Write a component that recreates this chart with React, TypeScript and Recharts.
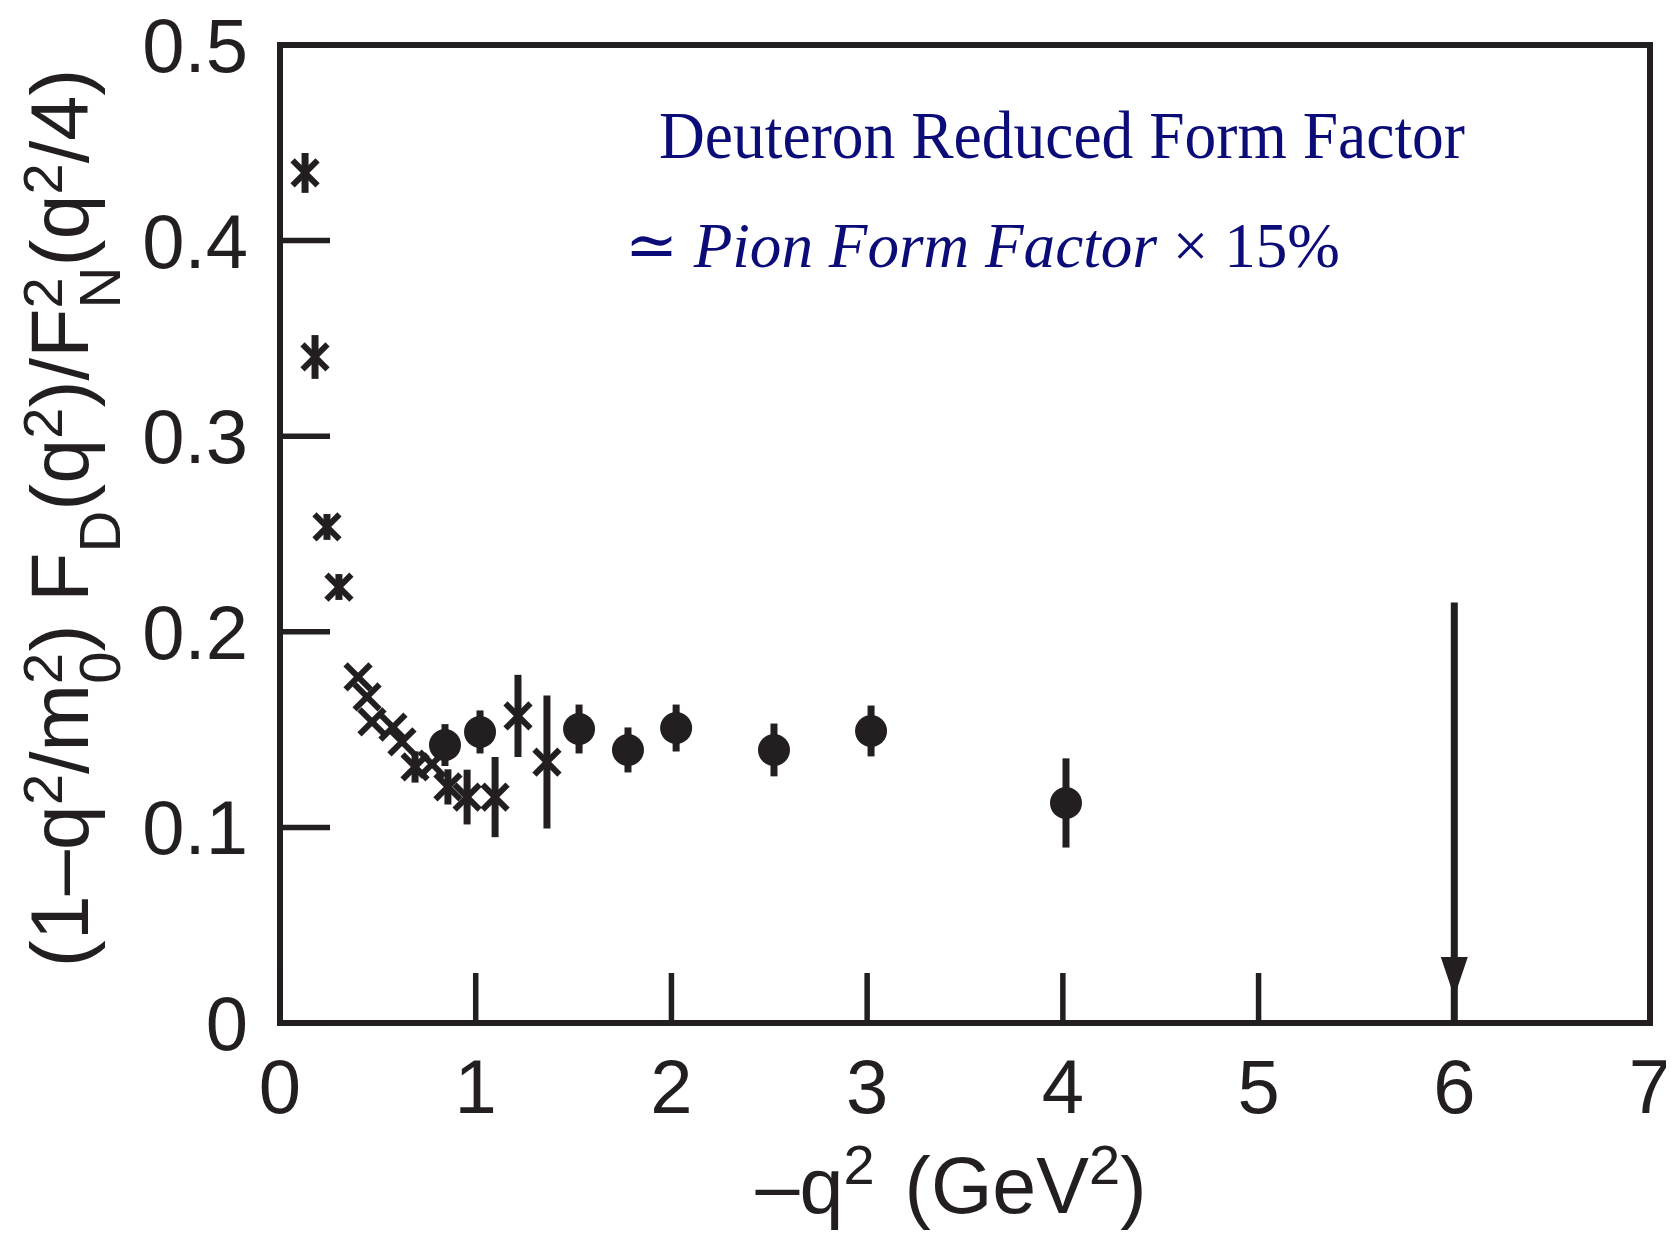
import React from "react";
import {
  ScatterChart,
  Scatter,
  XAxis,
  YAxis,
  ErrorBar,
  ReferenceArea,
  ReferenceLine,
} from "recharts";

// ---- data ----
// cross markers (-q^2, reduced form factor, error)
const crossQ2 = [0.128, 0.179, 0.24, 0.301, 0.399, 0.445, 0.47, 0.577, 0.623, 0.69, 0.777, 0.858, 0.956, 1.099, 1.216, 1.364];
const crossVal = [0.4346, 0.3405, 0.2536, 0.2229, 0.1769, 0.1667, 0.1539, 0.1513, 0.1437, 0.1309, 0.1324, 0.1207, 0.1155, 0.1155, 0.157, 0.1334];
const crossErr = [0.0102, 0.0112, 0.0066, 0.0066, 0, 0, 0, 0, 0, 0.008, 0, 0.009, 0.014, 0.0205, 0.021, 0.034];

// filled circle markers
const dotQ2 = [0.843, 1.022, 1.528, 1.778, 2.024, 2.524, 3.02, 4.016];
const dotVal = [0.1421, 0.1488, 0.1503, 0.1396, 0.1508, 0.1396, 0.1493, 0.1125];
const dotErr = [0.0107, 0.011, 0.0125, 0.0115, 0.012, 0.0135, 0.013, 0.0228];

// arrow at -q^2 = 6
const arrowQ2 = [6];
const arrowTop = [0.215];
const arrowTip = [0.0133];

const xTicks = [0, 1, 2, 3, 4, 5, 6, 7];
const yTicks = [0, 0.1, 0.2, 0.3, 0.4, 0.5];
const yTickLabels = ["0", "0.1", "0.2", "0.3", "0.4", "0.5"];

const titleLine1 = "Deuteron Reduced Form Factor";

// ---- styling ----
const INK = "#231f20";
const NAVY = "#0c0c78";
const SANS = "'Liberation Sans', Arial, Helvetica, sans-serif";
const SERIF = "'Liberation Serif', 'Times New Roman', 'DejaVu Serif', serif";

const crossData = crossQ2.map((q, i) => ({ q, v: crossVal[i], e: crossErr[i] }));
const dotData = dotQ2.map((q, i) => ({ q, v: dotVal[i], e: dotErr[i] }));
const arrowHeadData = arrowQ2.map((q, i) => ({ q, v: arrowTip[i] }));

const W = 1674;
const H = 1238;
const TICK = 50;

const CrossShape = (p: any) => {
  const { cx, cy } = p;
  const s = 12.5;
  return (
    <g stroke={INK} strokeWidth={6}>
      <line x1={cx - s} y1={cy - s} x2={cx + s} y2={cy + s} />
      <line x1={cx - s} y1={cy + s} x2={cx + s} y2={cy - s} />
    </g>
  );
};

const DotShape = (p: any) => <circle cx={p.cx} cy={p.cy} r={16} fill={INK} />;

const ArrowHead = (p: any) => {
  const { cx, cy } = p;
  return (
    <polygon
      points={`${cx},${cy} ${cx - 13.5},${cy - 40} ${cx + 13.5},${cy - 40}`}
      fill={INK}
    />
  );
};

const XTick = (p: any) => {
  const { x, y, payload } = p;
  return (
    <text x={x} y={y + TICK + 90} textAnchor="middle" fontFamily={SANS} fontSize={76} fill={INK}>
      {String(payload.value)}
    </text>
  );
};

const YTick = (p: any) => {
  const { x, y, payload } = p;
  const idx = yTicks.indexOf(payload.value);
  return (
    <text x={x - TICK - 32} y={y} dy={27} textAnchor="end" fontFamily={SANS} fontSize={76} fill={INK}>
      {idx >= 0 ? yTickLabels[idx] : String(payload.value)}
    </text>
  );
};

const SUP = 56;
const SUB = 58;

const YLabel = () => (
  <text
    transform="translate(88, 518) rotate(-90)"
    textAnchor="middle"
    fontFamily={SANS}
    fontSize={81}
    fill={INK}
  >
    <tspan>(1–q</tspan>
    <tspan fontSize={SUP} dy={-26}>2</tspan>
    <tspan dy={26}>/m</tspan>
    <tspan fontSize={SUP} dy={-26}>2</tspan>
    <tspan fontSize={SUB} dx={-31} dy={58}>0</tspan>
    <tspan dy={-32}>) F</tspan>
    <tspan fontSize={SUB} dy={32}>D</tspan>
    <tspan dy={-32}>(q</tspan>
    <tspan fontSize={SUP} dy={-26}>2</tspan>
    <tspan dy={26}>)/F</tspan>
    <tspan fontSize={SUP} dy={-26}>2</tspan>
    <tspan fontSize={SUB} dx={-31} dy={58}>N</tspan>
    <tspan dy={-32}>(q</tspan>
    <tspan fontSize={SUP} dy={-26}>2</tspan>
    <tspan dy={26}>/4)</tspan>
  </text>
);

const XLabel = () => (
  <text x={951} y={1213} textAnchor="middle" fontFamily={SANS} fontSize={79} fill={INK}>
    <tspan>–q</tspan>
    <tspan fontSize={56} dy={-29}>2</tspan>
    <tspan dy={29} dx={30}>(GeV</tspan>
    <tspan fontSize={56} dy={-29}>2</tspan>
    <tspan dy={29}>)</tspan>
  </text>
);

const Titles = () => (
  <g>
    <text
      x={659}
      y={158}
      fontFamily={SERIF}
      fontSize={68}
      fill={NAVY}
      textLength={806}
      lengthAdjust="spacingAndGlyphs"
    >
      {titleLine1}
    </text>
    <text
      x={625}
      y={267}
      fontFamily={SERIF}
      fontSize={64}
      fill={NAVY}
      textLength={715}
      lengthAdjust="spacingAndGlyphs"
    >
      <tspan>≃ </tspan>
      <tspan fontStyle="italic">Pion Form Factor</tspan>
      <tspan> × 15%</tspan>
    </text>
  </g>
);

export default function App() {
  return (
    <div style={{ margin: -8, width: W, height: H }}>
      <ScatterChart
        width={W}
        height={H}
        margin={{ top: 35, right: 14, bottom: 115, left: 180 }}
      >
        <XAxis
          xAxisId="b"
          dataKey="q"
          type="number"
          domain={[0, 7]}
          ticks={xTicks}
          orientation="bottom"
          height={100}
          axisLine={false}
          tickSize={-TICK}
          tickMargin={0}
          tickLine={{ stroke: INK, strokeWidth: 5.5 }}
          tick={<XTick />}
          allowDataOverflow
        />
        <XAxis
          xAxisId="t"
          dataKey="q"
          type="number"
          domain={[0, 7]}
          ticks={xTicks}
          orientation="top"
          height={10}
          axisLine={false}
          tickSize={-TICK}
          tickLine={{ stroke: INK, strokeWidth: 5.5 }}
          tick={false}
          allowDataOverflow
        />
        <YAxis
          yAxisId="l"
          dataKey="v"
          type="number"
          domain={[0, 0.5]}
          ticks={yTicks}
          orientation="left"
          width={100}
          axisLine={false}
          tickSize={-TICK}
          tickMargin={0}
          tickLine={{ stroke: INK, strokeWidth: 5.5 }}
          tick={<YTick />}
          allowDataOverflow
        />
        <YAxis
          yAxisId="r"
          dataKey="v"
          type="number"
          domain={[0, 0.5]}
          ticks={yTicks}
          orientation="right"
          width={10}
          axisLine={false}
          tickSize={-TICK}
          tickLine={{ stroke: INK, strokeWidth: 5.5 }}
          tick={false}
          allowDataOverflow
        />
        <ReferenceArea
          xAxisId="b"
          yAxisId="l"
          x1={0}
          x2={7}
          y1={0}
          y2={0.5}
          fill="none"
          fillOpacity={0}
          stroke={INK}
          strokeWidth={6}
          ifOverflow="visible"
        />
        <ReferenceLine
          xAxisId="b"
          yAxisId="l"
          segment={[
            { x: arrowQ2[0], y: arrowTop[0] },
            { x: arrowQ2[0], y: 0 },
          ]}
          stroke={INK}
          strokeWidth={7}
          ifOverflow="visible"
        />
        <Scatter
          xAxisId="b"
          yAxisId="l"
          data={arrowHeadData}
          shape={<ArrowHead />}
          isAnimationActive={false}
        />
        <Scatter
          xAxisId="b"
          yAxisId="l"
          data={dotData}
          shape={<DotShape />}
          isAnimationActive={false}
        >
          <ErrorBar dataKey="e" direction="y" width={0} stroke={INK} strokeWidth={7} isAnimationActive={false} />
        </Scatter>
        <Scatter
          xAxisId="b"
          yAxisId="l"
          data={crossData}
          shape={<CrossShape />}
          isAnimationActive={false}
        >
          <ErrorBar dataKey="e" direction="y" width={0} stroke={INK} strokeWidth={7} isAnimationActive={false} />
        </Scatter>
        <YLabel />
        <XLabel />
        <Titles />
      </ScatterChart>
    </div>
  );
}
